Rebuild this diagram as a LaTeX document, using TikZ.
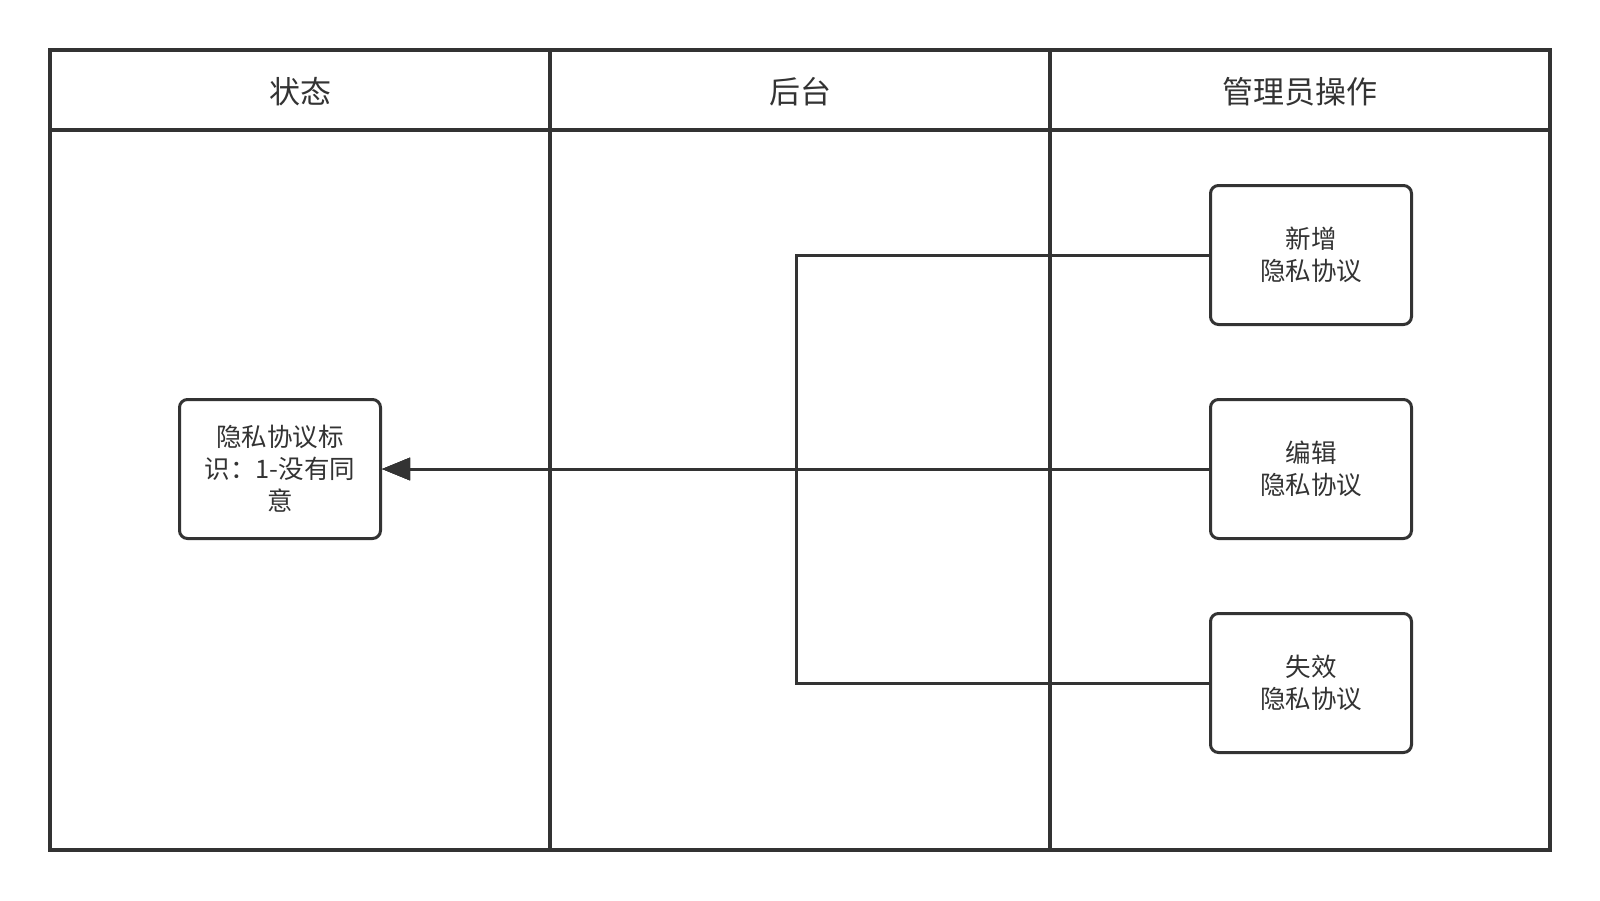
\documentclass[tikz,border=0pt]{standalone}
\usepackage{fontspec}
\setmainfont{Noto Sans CJK SC}
\usetikzlibrary{arrows.meta}
\definecolor{ink}{HTML}{333333}
\begin{document}
\begin{tikzpicture}[x=1pt,y=-1pt,
  frame/.style={draw=ink,line width=3.6pt},
  procbox/.style={draw=ink,line width=3pt,rounded corners=8pt,minimum width=201pt,minimum height=139pt,inner sep=0pt,align=center,font=\fontsize{25.5}{32}\selectfont,text=ink},
  head/.style={font=\fontsize{31}{36}\selectfont,text=ink},
  conn/.style={draw=ink,line width=3pt,-{Triangle[length=28pt,width=22pt]}}]
\useasboundingbox (0,0) rectangle (1600,900);
\fill[white] (0,0) rectangle (1600,900);
% swimlanes
\draw[frame] (50,50) rectangle (1550,850);
\draw[frame] (50,130) -- (1550,130);
\draw[frame] (550,50) -- (550,850);
\draw[frame] (1050,50) -- (1050,850);
\node[head] (h1) at (300,92) {状态};
\node[head] (h2) at (800,92) {后台};
\node[head] (h3) at (1300,92) {管理员操作};
% boxes
\node[procbox] (s) at (280,469) {隐私协议标\\识：1-没有同\\意};
\node[procbox] (b1) at (1311,255) {新增\\隐私协议};
\node[procbox] (b2) at (1311,469) {编辑\\隐私协议};
\node[procbox] (b3) at (1311,683) {失效\\隐私协议};
\coordinate (j1) at (796,255);
\coordinate (j3) at (796,683);
% connectors
\draw[conn] (b2.west) -- (s.east);
\draw[conn] (b1.west) -- (j1) |- (s.east);
\draw[conn] (b3.west) -- (j3) |- (s.east);
\end{tikzpicture}
\end{document}
